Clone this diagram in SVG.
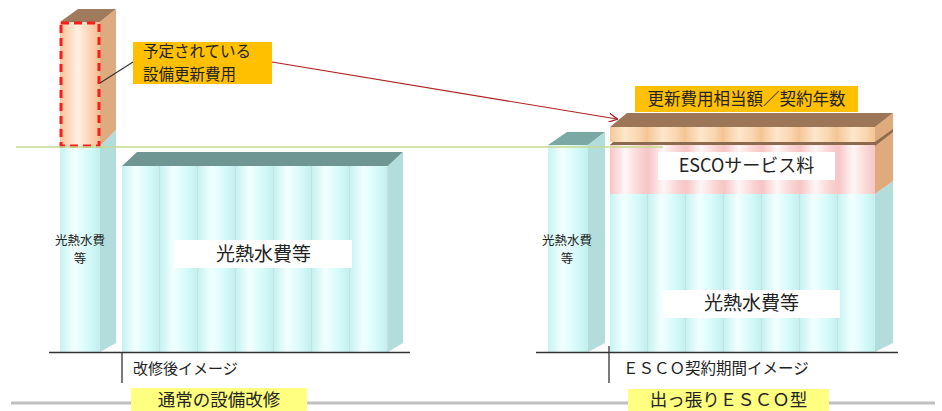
<svg xmlns="http://www.w3.org/2000/svg" width="942" height="411" viewBox="0 0 942 411">
<defs>
<linearGradient id="cy" x1="0" y1="0" x2="1" y2="0">
<stop offset="0" stop-color="#c6f2f2"/>
<stop offset="0.35" stop-color="#f2ffff"/>
<stop offset="0.7" stop-color="#d6fafa"/>
<stop offset="1" stop-color="#c2efef"/>
</linearGradient>
<linearGradient id="pk" x1="0" y1="0" x2="1" y2="0">
<stop offset="0" stop-color="#f7c4c4"/>
<stop offset="0.4" stop-color="#fff6f6"/>
<stop offset="0.75" stop-color="#fad6d6"/>
<stop offset="1" stop-color="#f6c6c6"/>
</linearGradient>
<linearGradient id="or" x1="0" y1="0" x2="1" y2="0">
<stop offset="0" stop-color="#f6c898"/>
<stop offset="0.4" stop-color="#fde6cc"/>
<stop offset="0.75" stop-color="#f9d6b0"/>
<stop offset="1" stop-color="#f3c290"/>
</linearGradient>
<linearGradient id="orcol" x1="0" y1="0" x2="1" y2="0">
<stop offset="0" stop-color="#f7c49a"/>
<stop offset="0.45" stop-color="#fff0e2"/>
<stop offset="1" stop-color="#f4bd8e"/>
</linearGradient>
<pattern id="stL" patternUnits="userSpaceOnUse" x="122" y="0" width="38" height="411">
<rect width="38" height="411" fill="url(#cy)"/>
<rect x="37" width="1" height="411" fill="#c9dede"/>
</pattern>
<pattern id="stR" patternUnits="userSpaceOnUse" x="610" y="0" width="38" height="411">
<rect width="38" height="411" fill="url(#cy)"/>
<rect x="37" width="1" height="411" fill="#c9dede"/>
</pattern>
<pattern id="pkR" patternUnits="userSpaceOnUse" x="610" y="0" width="38" height="411">
<rect width="38" height="411" fill="url(#pk)"/>
</pattern>
<pattern id="orR" patternUnits="userSpaceOnUse" x="610" y="0" width="38" height="411">
<rect width="38" height="411" fill="url(#or)"/>
</pattern>
<marker id="arr" viewBox="0 0 10 10" refX="9" refY="5" markerWidth="9" markerHeight="9" orient="auto" markerUnits="userSpaceOnUse">
<path d="M0,0 L10,5 L0,10" fill="none" stroke="#b02020" stroke-width="1.5"/>
</marker>
</defs>
<style>
.t{font-family:"Noto Sans CJK JP","Noto Sans",sans-serif;fill:#222}
.side{fill:#b3dddd}
.ln{stroke:#333;stroke-width:1.3;fill:none}
.lab{fill:#ffffff}
.org{fill:#ffc000}
.yel{fill:#ffff80}
</style>
<rect width="942" height="411" fill="#ffffff"/>

<g id="left-small-column">
<rect x="60" y="146" width="40" height="206" fill="url(#cy)"/>
<polygon points="100,146 116,130 116,343 100,352" class="side"/>
<text class="t" font-size="12.5" text-anchor="middle"><tspan x="80" y="245">光熱水費</tspan><tspan x="80" y="263.2">等</tspan></text>
</g>

<g id="planned-renewal-column">
<rect x="60" y="22" width="40" height="124" fill="url(#orcol)"/>
<polygon points="60,22 78,9 116,9 100,22" fill="#a07a5c"/>
<polygon points="100,22 116,9 116,130 100,146" fill="#deaa80"/>
<rect x="61" y="23" width="38" height="123" fill="none" stroke="#ff1a1a" stroke-width="3" stroke-dasharray="8,5"/>
</g>

<g id="left-big-block">
<rect x="122" y="166" width="266" height="186" fill="url(#stL)"/>
<polygon points="122,166 137,152 403,152 388,166" fill="#6f9692"/>
<polygon points="388,166 403,152 403,343 388,352" class="side"/>
<rect x="175" y="240" width="177" height="28" class="lab"/>
<text class="t" x="263.5" y="261" font-size="19" text-anchor="middle">光熱水費等</text>
</g>

<g id="right-small-column">
<rect x="548" y="145" width="40" height="207" fill="url(#cy)"/>
<polygon points="548,145 567,132 605,132 588,145" fill="#79a8a5"/>
<polygon points="588,145 605,132 605,343 588,352" class="side"/>
<text class="t" font-size="12.5" text-anchor="middle"><tspan x="567" y="245">光熱水費</tspan><tspan x="567" y="263.2">等</tspan></text>
</g>

<g id="right-big-block">
<rect x="610" y="194" width="265" height="158" fill="url(#stR)"/>
<polygon points="875,194 893,181 893,343 875,352" class="side"/>
<rect x="610" y="144" width="265" height="50" fill="url(#pkR)"/>
<rect x="610" y="127" width="265" height="15" fill="url(#orR)"/>
<polygon points="610,145 613,142 875,142 875,145" fill="#8c6a50"/>
<polygon points="875,127 893,113 893,181 875,194" fill="#e0ab7c"/>
<polygon points="875,142 893,129 893,132 875,146" fill="#8c6a50"/>
<polygon points="610,127 627,113 893,113 875,127" fill="#9c7656"/>
<rect x="658" y="152" width="177" height="28" class="lab"/>
<text class="t" x="746.5" y="172" font-size="18" text-anchor="middle">ESCOサービス料</text>
<rect x="663" y="290" width="177" height="28" class="lab"/>
<text class="t" x="751.5" y="310" font-size="19" text-anchor="middle">光熱水費等</text>
</g>

<g id="label-planned">
<rect x="133" y="42" width="139" height="42" class="org"/>
<text class="t" font-size="15.5"><tspan x="143" y="57">予定されている</tspan><tspan x="143" y="79.5">設備更新費用</tspan></text>
</g>

<g id="label-renewal-per-year">
<rect x="635" y="86" width="223" height="26" class="org"/>
<text class="t" x="746.5" y="105" font-size="16.5" text-anchor="middle">更新費用相当額／契約年数</text>
</g>

<g id="connectors">
<line x1="16" y1="147" x2="663" y2="147" stroke="#c6da8e" stroke-width="1.3"/>
<line x1="133" y1="62" x2="100" y2="83" stroke="#333" stroke-width="1.2"/>
<line x1="272" y1="62" x2="617" y2="119" stroke="#b02020" stroke-width="1.2" marker-end="url(#arr)"/>
</g>

<g id="axis-left">
<line x1="49" y1="352.5" x2="410" y2="352.5" class="ln"/>
<line x1="122" y1="352" x2="122" y2="383" class="ln" stroke-width="1.6"/>
<text class="t" x="133" y="374" font-size="15">改修後イメージ</text>
</g>

<g id="axis-right">
<line x1="536" y1="352.5" x2="898" y2="352.5" class="ln"/>
<line x1="609" y1="346" x2="609" y2="383" class="ln" stroke-width="1.6"/>
<text class="t" x="623" y="374" font-size="15.5">ＥＳＣＯ契約期間イメージ</text>
</g>

<g id="footer">
<line x1="11" y1="403" x2="935" y2="403" stroke="#c0c0c0" stroke-width="3"/>
<rect x="131" y="388" width="176" height="23" class="yel"/>
<text class="t" x="219" y="405.5" font-size="17.5" text-anchor="middle">通常の設備改修</text>
<rect x="628" y="389" width="201" height="22" class="yel"/>
<text class="t" x="728.5" y="405.5" font-size="17.5" text-anchor="middle">出っ張りＥＳＣＯ型</text>
</g>
</svg>
